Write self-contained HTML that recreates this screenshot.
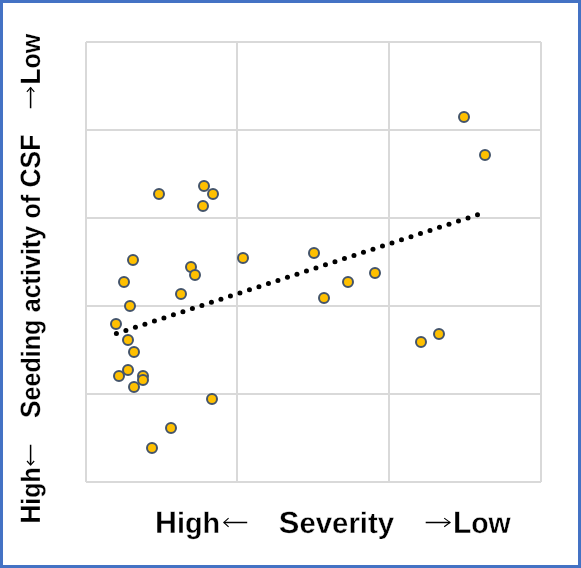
<!DOCTYPE html>
<html><head><meta charset="utf-8">
<style>
html,body{margin:0;padding:0;background:#fff;}
body{width:581px;height:568px;overflow:hidden;}
svg{display:block;will-change:transform;}
text{font-family:"Liberation Sans",sans-serif;font-weight:bold;fill:#000;stroke:#fff;stroke-width:0.35px;text-rendering:geometricPrecision;}
.yax text{stroke-width:0.22px}
</style></head><body>
<svg width="581" height="568" viewBox="0 0 581 568">
<rect x="0" y="0" width="581" height="568" fill="#fff"/>
<rect x="1.5" y="1.5" width="578" height="565" fill="none" stroke="#4472C4" stroke-width="3"/>
<g stroke="#D9D9D9" stroke-width="2" fill="none">
<path d="M86,42V482M237,42V482M389,42V482M541,42V482"/>
<path d="M86,42H541M86,130H541M86,218H541M86,306H541M86,394H541M86,482H541"/>
</g>
<g fill="#000"><circle cx="116.40" cy="333.60" r="2.5"/><circle cx="125.90" cy="330.47" r="2.5"/><circle cx="135.41" cy="327.35" r="2.5"/><circle cx="144.91" cy="324.22" r="2.5"/><circle cx="154.41" cy="321.09" r="2.5"/><circle cx="163.91" cy="317.97" r="2.5"/><circle cx="173.42" cy="314.84" r="2.5"/><circle cx="182.92" cy="311.72" r="2.5"/><circle cx="192.42" cy="308.59" r="2.5"/><circle cx="201.92" cy="305.46" r="2.5"/><circle cx="211.43" cy="302.34" r="2.5"/><circle cx="220.93" cy="299.21" r="2.5"/><circle cx="230.43" cy="296.08" r="2.5"/><circle cx="239.93" cy="292.96" r="2.5"/><circle cx="249.44" cy="289.83" r="2.5"/><circle cx="258.94" cy="286.71" r="2.5"/><circle cx="268.44" cy="283.58" r="2.5"/><circle cx="277.94" cy="280.45" r="2.5"/><circle cx="287.45" cy="277.33" r="2.5"/><circle cx="296.95" cy="274.20" r="2.5"/><circle cx="306.45" cy="271.07" r="2.5"/><circle cx="315.96" cy="267.95" r="2.5"/><circle cx="325.46" cy="264.82" r="2.5"/><circle cx="334.96" cy="261.69" r="2.5"/><circle cx="344.46" cy="258.57" r="2.5"/><circle cx="353.97" cy="255.44" r="2.5"/><circle cx="363.47" cy="252.32" r="2.5"/><circle cx="372.97" cy="249.19" r="2.5"/><circle cx="382.47" cy="246.06" r="2.5"/><circle cx="391.98" cy="242.94" r="2.5"/><circle cx="401.48" cy="239.81" r="2.5"/><circle cx="410.98" cy="236.68" r="2.5"/><circle cx="420.48" cy="233.56" r="2.5"/><circle cx="429.99" cy="230.43" r="2.5"/><circle cx="439.49" cy="227.31" r="2.5"/><circle cx="448.99" cy="224.18" r="2.5"/><circle cx="458.49" cy="221.05" r="2.5"/><circle cx="468.00" cy="217.93" r="2.5"/><circle cx="477.50" cy="214.80" r="2.5"/></g>
<g fill="#FFC000" stroke="#44546A" stroke-width="2">
<circle cx="464" cy="117" r="5"/>
<circle cx="485" cy="155" r="5"/>
<circle cx="204" cy="186" r="5"/>
<circle cx="159" cy="194" r="5"/>
<circle cx="213" cy="194" r="5"/>
<circle cx="203" cy="206" r="5"/>
<circle cx="314" cy="253" r="5"/>
<circle cx="243" cy="258" r="5"/>
<circle cx="133" cy="260" r="5"/>
<circle cx="191" cy="267" r="5"/>
<circle cx="195" cy="275" r="5"/>
<circle cx="375" cy="273" r="5"/>
<circle cx="124" cy="282" r="5"/>
<circle cx="348" cy="282" r="5"/>
<circle cx="181" cy="294" r="5"/>
<circle cx="324" cy="298" r="5"/>
<circle cx="130" cy="306" r="5"/>
<circle cx="116" cy="324" r="5"/>
<circle cx="439" cy="334" r="5"/>
<circle cx="128" cy="340" r="5"/>
<circle cx="421" cy="342" r="5"/>
<circle cx="134" cy="352" r="5"/>
<circle cx="128" cy="370" r="5"/>
<circle cx="143" cy="376" r="5"/>
<circle cx="119" cy="376" r="5"/>
<circle cx="143" cy="380" r="5"/>
<circle cx="134" cy="387" r="5"/>
<circle cx="212" cy="399" r="5"/>
<circle cx="171" cy="428" r="5"/>
<circle cx="152" cy="448" r="5"/>
</g>
<g>
<text x="155.02" y="533.00" font-size="30.8" textLength="65.15" lengthAdjust="spacingAndGlyphs">H<tspan font-size="29.26">igh</tspan></text>
<text x="278.79" y="533.00" font-size="30.8" textLength="115.31" lengthAdjust="spacingAndGlyphs">S<tspan font-size="29.26">everity</tspan></text>
<text x="452.94" y="533.00" font-size="30.8" textLength="57.75" lengthAdjust="spacingAndGlyphs">L<tspan font-size="29.26">ow</tspan></text>
</g>
<g stroke="#000" fill="none" stroke-linecap="butt" stroke-linejoin="miter">
<path stroke-width="1.5" d="M247.2,522.4H223.8M425.7,522.4H450.2M30.6,444.8V465.2M30.6,108.2V87.4"/>
<path stroke-width="1.15" d="M228.6,518.1L223.9,522.4L228.6,526.8M444.2,518.1L450.0,522.4L444.2,526.8M27.0,461.0L30.6,465.0L34.2,461.0M26.9,91.8L30.6,87.6L34.3,91.8"/>
</g>
<g class="yax" transform="translate(40.3,0) rotate(-90)">
<text x="-523.57" y="0.00" font-size="28" textLength="56.24" lengthAdjust="spacingAndGlyphs">H<tspan font-size="26.60">igh</tspan></text>
<text x="-418.03" y="0.00" font-size="28" textLength="283.33" lengthAdjust="spacingAndGlyphs">S<tspan font-size="26.60">eeding</tspan> <tspan font-size="26.60">activity</tspan> <tspan font-size="26.60">of</tspan> CSF</text>
<text x="-84.57" y="0.00" font-size="28" textLength="50.88" lengthAdjust="spacingAndGlyphs">L<tspan font-size="26.60">ow</tspan></text>
</g>
</svg>
</body></html>
